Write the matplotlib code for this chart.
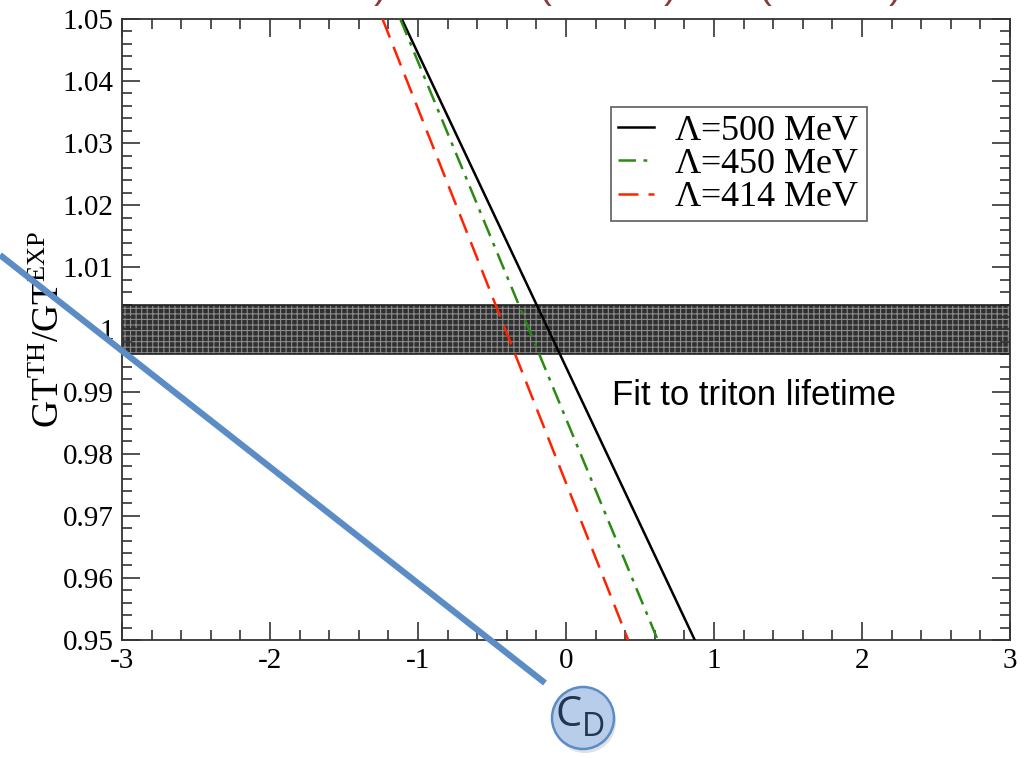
import matplotlib
matplotlib.use('Agg')
import matplotlib.pyplot as plt
from matplotlib.lines import Line2D
from matplotlib.patches import Ellipse
import numpy as np

gt = [1.05, 1.00, 0.95]
cd_500 = [-1.11, -0.12, 0.87]
cd_450 = [-1.12, -0.25, 0.62]
cd_414 = [-1.24, -0.41, 0.42]
labels = [r'$\Lambda$=500 MeV', r'$\Lambda$=450 MeV', r'$\Lambda$=414 MeV']

# experimental band
band_lo, band_hi = 0.996, 1.004

plt.rcParams['font.family'] = 'Liberation Serif'
plt.rcParams['mathtext.fontset'] = 'custom'
plt.rcParams['mathtext.rm'] = 'Liberation Serif'
plt.rcParams['mathtext.it'] = 'Liberation Serif:italic'
plt.rcParams['axes.unicode_minus'] = False
plt.rcParams['hatch.linewidth'] = 0.8

fig = plt.figure(figsize=(10.29, 7.58), dpi=100)
ax = fig.add_axes([0.1186, 0.1557, 0.8629, 0.8193])

ax.fill_between([-3, 3], band_lo, band_hi, facecolor='#303030',
                edgecolor='#8c8c8c', hatch='+++', linewidth=0, zorder=1)
ax.plot([-3, 3], [band_hi, band_hi], color='#222222', lw=1.2, zorder=2)
ax.plot([-3, 3], [band_lo, band_lo], color='#222222', lw=1.2, zorder=2)

ax.plot(cd_500, gt, color='black', lw=1.8, label=labels[0], zorder=3)
ax.plot(cd_450, gt, color='#2a8a12', lw=1.8, dashes=(7, 3, 1.5, 3),
        label=labels[1], zorder=3)
ax.plot(cd_414, gt, color='#ff2200', lw=1.8, dashes=(8, 4),
        label=labels[2], zorder=3)

ax.set_xlim(-3, 3)
ax.set_ylim(0.95, 1.05)
ax.set_xticks(np.arange(-3, 3.01, 1))
ax.set_xticklabels(['-3', '-2', '-1', '0', '1', '2', '3'])
ax.set_yticks([0.95, 0.96, 0.97, 0.98, 0.99, 1.0, 1.01, 1.02, 1.03, 1.04, 1.05])
ax.set_yticklabels(['0.95', '0.96', '0.97', '0.98', '0.99', '1',
                    '1.01', '1.02', '1.03', '1.04', '1.05'])
ax.set_xticks(np.arange(-3, 3.01, 0.2), minor=True)
ax.set_yticks(np.arange(0.95, 1.0501, 0.002), minor=True)
ax.tick_params(which='both', direction='in', top=True, right=True,
               labelsize=21, colors='#333333', labelcolor='black')
ax.tick_params(which='major', length=13, width=1.2, pad=6)
ax.tick_params(which='minor', length=7, width=1.2)
for s in ax.spines.values():
    s.set_linewidth(1.3)
    s.set_color('#333333')

ax.set_ylabel(r'$\mathrm{GT}^{\mathrm{TH}}/\mathrm{GT}^{\mathrm{EXP}}$', fontsize=27)
ax.yaxis.set_label_coords(-0.062, 0.5)

leg = ax.legend(loc='upper left', bbox_to_anchor=(0.5507, 0.858), fontsize=26,
                frameon=True, fancybox=False, edgecolor='#333333',
                handlelength=1.0, handletextpad=0.55, borderpad=0.2,
                labelspacing=0.0, borderaxespad=0)
leg.get_frame().set_linewidth(1.2)

ax.text(0.31, 0.9893, 'Fit to triton lifetime', family='Liberation Sans',
        fontsize=25, ha='left', va='center')

# cut-off heading at the top edge
for xp, ch in [(380, ')'), (545, '('), (670, ')'), (765, '('), (895, ')')]:
    fig.text(xp / 1029, 1 - 6 / 758, ch, color='#8b3a3a', fontsize=28,
             ha='center', va='bottom', family='Liberation Sans')

# blue pointer line
fig.add_artist(Line2D([0, 545 / 1029], [1 - 255 / 758, 1 - 683 / 758],
                      transform=fig.transFigure, color='#5b8cc6', lw=4.5,
                      solid_capstyle='butt', zorder=5))

# c_D bubble
cx, cy, r = 583 / 1029, 1 - 718 / 758, 31
fig.add_artist(Ellipse((cx + 2 / 1029, cy - 4 / 758), 2 * r / 1029, 2 * r / 758,
                       transform=fig.transFigure, facecolor='#888888',
                       edgecolor='none', alpha=0.25, zorder=5))
fig.add_artist(Ellipse((cx, cy), 2 * r / 1029, 2 * r / 758,
                       transform=fig.transFigure, facecolor='#b7cde9',
                       edgecolor='#5b8cc6', lw=1.8, zorder=6))
fig.text(cx - 1 / 1029, cy + 3 / 758, 'C', color='#22354f', fontsize=30,
         family='Open Sans', ha='right', va='center', zorder=7)
fig.text(cx - 1 / 1029, cy - 10 / 758, 'D', color='#22354f', fontsize=23,
         family='Open Sans', ha='left', va='center', zorder=7)

fig.savefig('out.png', dpi=100)
